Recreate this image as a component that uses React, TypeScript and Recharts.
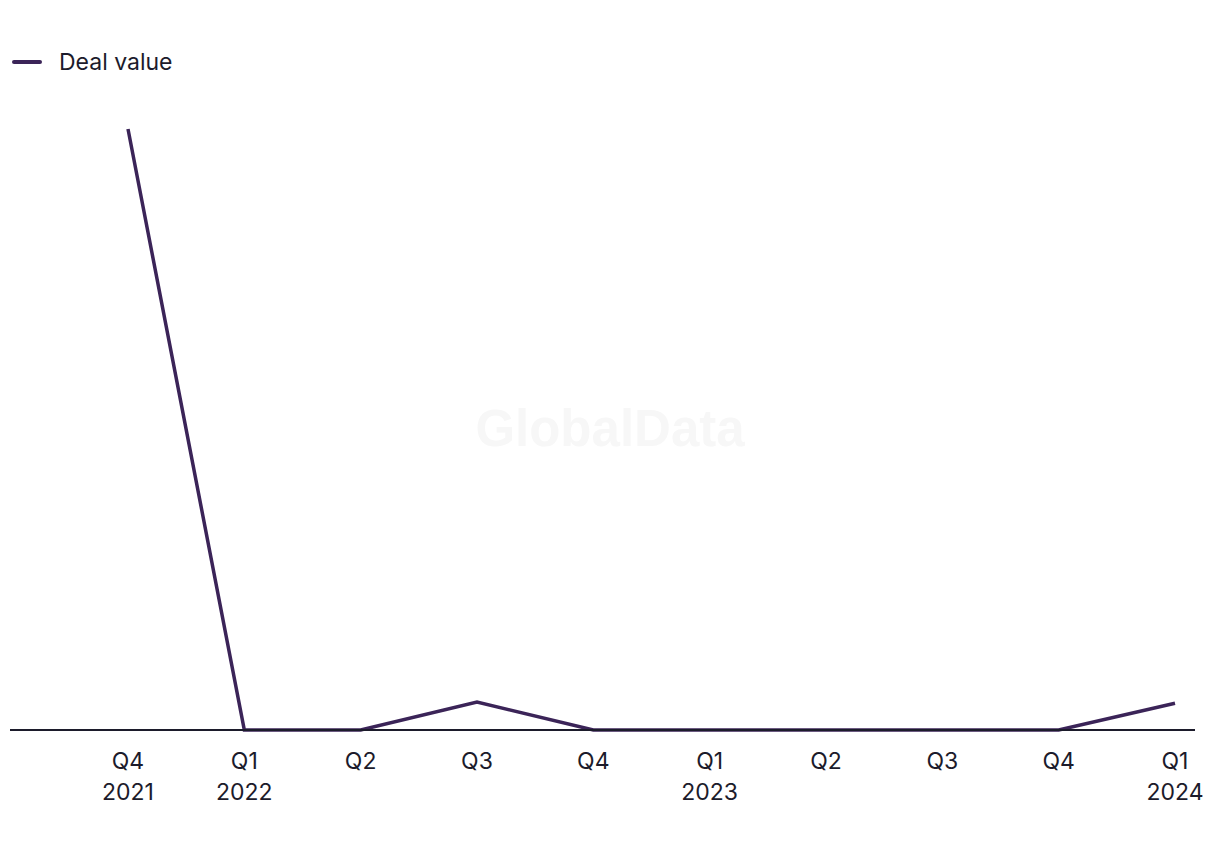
import { LineChart, Line, XAxis, YAxis, Legend } from 'recharts'

const quarters = ['Q4', 'Q1', 'Q2', 'Q3', 'Q4', 'Q1', 'Q2', 'Q3', 'Q4', 'Q1']
const years = ['2021', '2022', '', '', '', '2023', '', '', '', '2024']
const dealValue = [1100, 0, 0, 51, 0, 0, 0, 0, 0, 49]

const LINE = '#3b2458'
const INK = '#1c1b2b'
const FONT = 'Inter, "Liberation Sans", sans-serif'

const data = quarters.map((q, i) => ({ key: `${q}-${i}`, q, year: years[i], value: dealValue[i] }))

function Tick(props: any) {
  const { x, y, payload } = props
  const row = data[payload.index] ?? data.find((d) => d.key === payload.value)
  return (
    <text x={x} y={y} textAnchor="middle" fill={INK} fontSize={23} fontFamily={FONT}>
      <tspan x={x} dy={31}>{row?.q}</tspan>
      {row?.year ? <tspan x={x} dy={31}>{row.year}</tspan> : null}
    </text>
  )
}

function LegendContent() {
  return (
    <div style={{ display: 'flex', alignItems: 'center', fontFamily: FONT, fontSize: 23, color: INK }}>
      <span style={{ display: 'inline-block', width: 30, height: 4, borderRadius: 2, background: LINE, marginRight: 17 }} />
      Deal value
    </div>
  )
}

export default function App() {
  return (
    <div style={{ position: 'absolute', left: 0, top: 0, width: 1220, height: 850, background: '#fff' }}>
      <div
        style={{
          position: 'absolute', left: 0, top: 399, width: 1220, textAlign: 'center',
          fontFamily: '"Liberation Sans", Arial, sans-serif', fontWeight: 700, fontSize: 51, color: '#f7f7f7',
        }}
      >
        GlobalData
      </div>
      <LineChart width={1220} height={850} data={data} margin={{ top: 101, right: 25, left: 10, bottom: 30 }}>
        <Legend
          verticalAlign="top"
          align="left"
          content={<LegendContent />}
          wrapperStyle={{ position: 'absolute', top: 48, left: 12 }}
        />
        <XAxis
          dataKey="key"
          type="category"
          padding={{ left: 118, right: 20 }}
          height={90}
          axisLine={{ stroke: INK, strokeWidth: 2 }}
          tickLine={false}
          interval={0}
          tick={<Tick />}
        />
        <YAxis hide domain={[0, 1100]} />
        <Line
          type="linear"
          dataKey="value"
          stroke={LINE}
          strokeWidth={3.5}
          dot={false}
          activeDot={false}
          isAnimationActive={false}
        />
      </LineChart>
    </div>
  )
}
